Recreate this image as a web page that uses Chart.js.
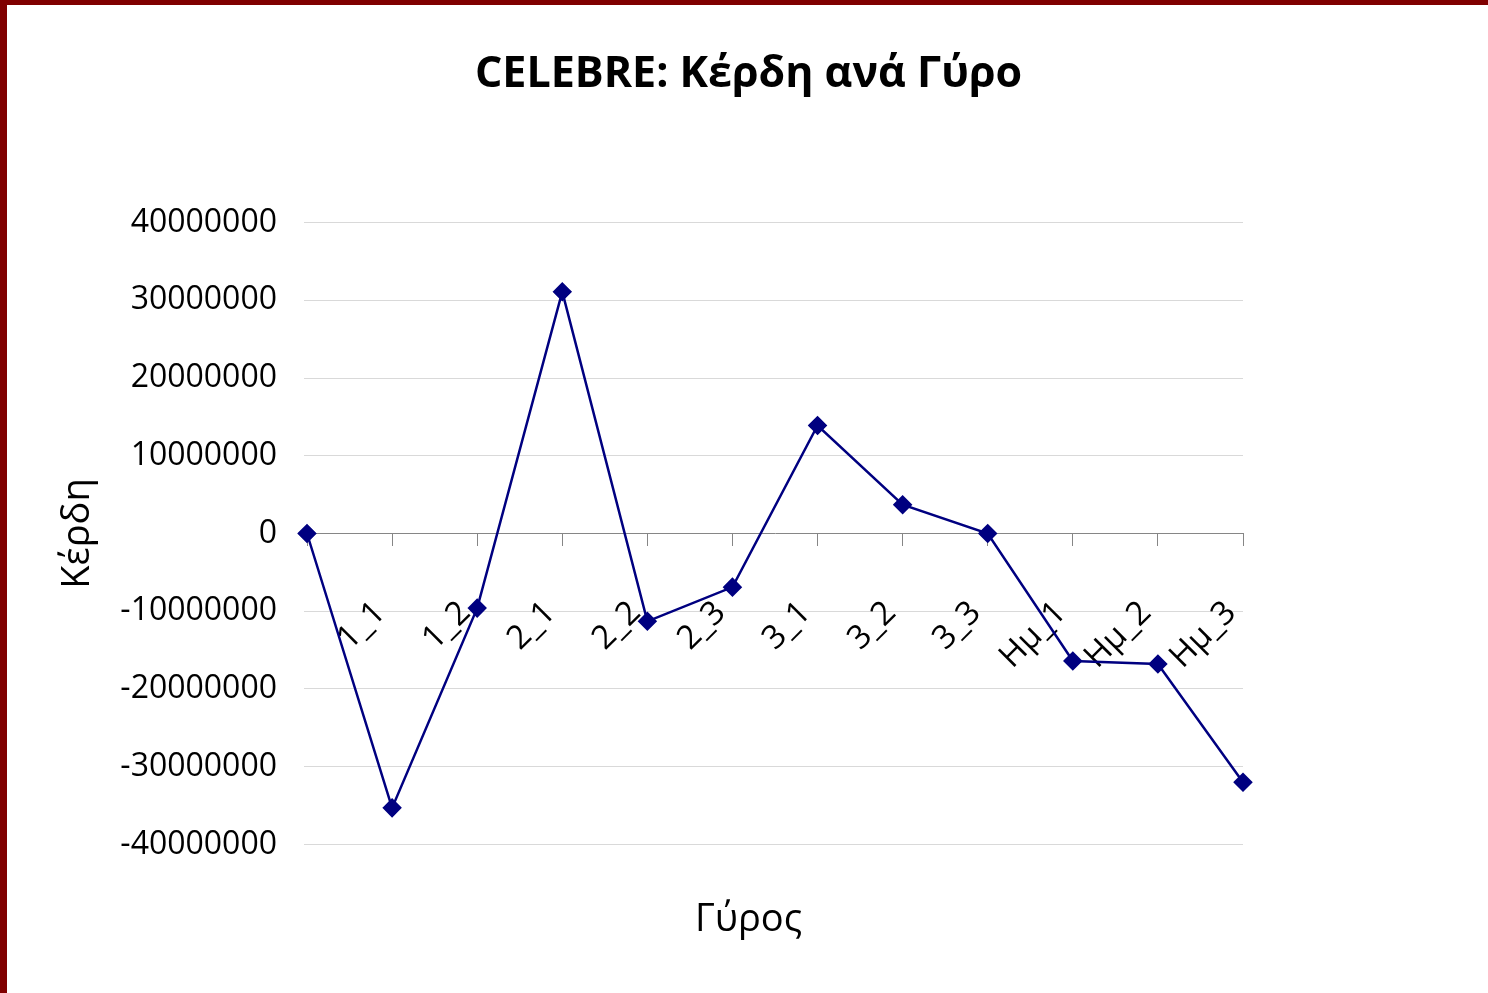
<!DOCTYPE html>
<html>
<head>
<meta charset="utf-8">
<script src="https://cdn.jsdelivr.net/npm/chart.js@4"></script>
<style>
    body { margin: 0; background: #fff; }
    #wrap { position: relative; width: 1488px; height: 993px; }
    #wrap canvas { position: absolute; left: 0; top: 0; }
    .bar { position: absolute; background: #800000; }
</style>
</head>
<body>
<div id="wrap">
    <canvas id="myLineChart" width="1488" height="993"></canvas>
    <div class="bar" style="left:0;top:0;width:7px;height:993px;"></div>
    <div class="bar" style="left:0;top:0;width:1488px;height:5px;"></div>
</div>
<script>
// rounds (first point has no label)
const rounds = ['', '1_1', '1_2', '2_1', '2_2', '2_3', '3_1', '3_2', '3_3', 'Ημ_1', 'Ημ_2', 'Ημ_3'];
// profit per round
const profits = [0, -35300000, -9600000, 31100000, -11300000, -6900000, 13900000, 3700000, 0, -16400000, -16800000, -32000000];
// y axis ticks
const yTicks = [-40000000, -30000000, -20000000, -10000000, 0, 10000000, 20000000, 30000000, 40000000];

const ctx = document.getElementById('myLineChart').getContext('2d');

const config = {
    type: 'line',
    data: {
        labels: rounds,
        datasets: [{
            label: 'Κέρδη',
            data: profits,
            borderColor: '#000080',
            backgroundColor: '#000080',
            borderWidth: 2.5,
            pointStyle: 'rectRot',
            pointRadius: 8,
            tension: 0
        }]
    },
    options: {
        responsive: false,
        animation: false,
        layout: {
            padding: { left: 9, right: 0, top: 0, bottom: 0 }
        },
        plugins: {
            legend: { display: false },
            tooltip: { enabled: false },
            title: {
                display: true,
                text: 'CELEBRE: Κέρδη ανά Γύρο',
                color: '#000',
                font: { family: '"Open Sans", sans-serif', size: 43, weight: 'bold' },
                padding: { top: 49, bottom: 122 }
            },
            subtitle: {
                display: true,
                position: 'bottom',
                text: 'Γύρος',
                color: '#000',
                font: { family: '"Open Sans", sans-serif', size: 38 },
                padding: { top: 53, bottom: 50 }
            }
        },
        scales: {
            x: {
                position: { y: 0 },
                offset: false,
                grid: {
                    drawOnChartArea: false,
                    drawTicks: true,
                    tickLength: 12,
                    color: '#868686'
                },
                border: { display: true, color: '#868686', width: 1 },
                ticks: {
                    autoSkip: false,
                    maxRotation: 45,
                    minRotation: 45,
                    padding: 48,
                    labelOffset: -12,
                    color: '#000',
                    font: { family: '"Open Sans", sans-serif', size: 33 }
                }
            },
            y: {
                min: -40000000,
                max: 40000000,
                afterBuildTicks: function (axis) {
                    axis.ticks = yTicks.map(v => ({ value: v }));
                },
                afterFit: function (axis) {
                    axis.width = 298;
                },
                grid: {
                    color: function (c) {
                        return c.tick && c.tick.value === 0 ? 'rgba(0,0,0,0)' : '#d9d9d9';
                    },
                    drawTicks: true,
                    tickLength: 3
                },
                border: { display: false },
                title: {
                    display: true,
                    text: 'Κέρδη',
                    color: '#000',
                    font: { family: '"Open Sans", sans-serif', size: 38 },
                    padding: { top: 46, bottom: 8 }
                },
                ticks: {
                    padding: 27,
                    color: '#000',
                    font: { family: '"Open Sans", sans-serif', size: 32 },
                    callback: function (value) {
                        return String(value);
                    }
                }
            },
            // empty right axis, only keeps room on the right side
            yRight: {
                position: 'right',
                min: -40000000,
                max: 40000000,
                afterFit: function (axis) {
                    axis.width = 245;
                },
                grid: { display: false },
                border: { display: false },
                ticks: { display: false }
            }
        }
    }
};

const myLineChart = new Chart(ctx, config);
</script>
</body>
</html>
